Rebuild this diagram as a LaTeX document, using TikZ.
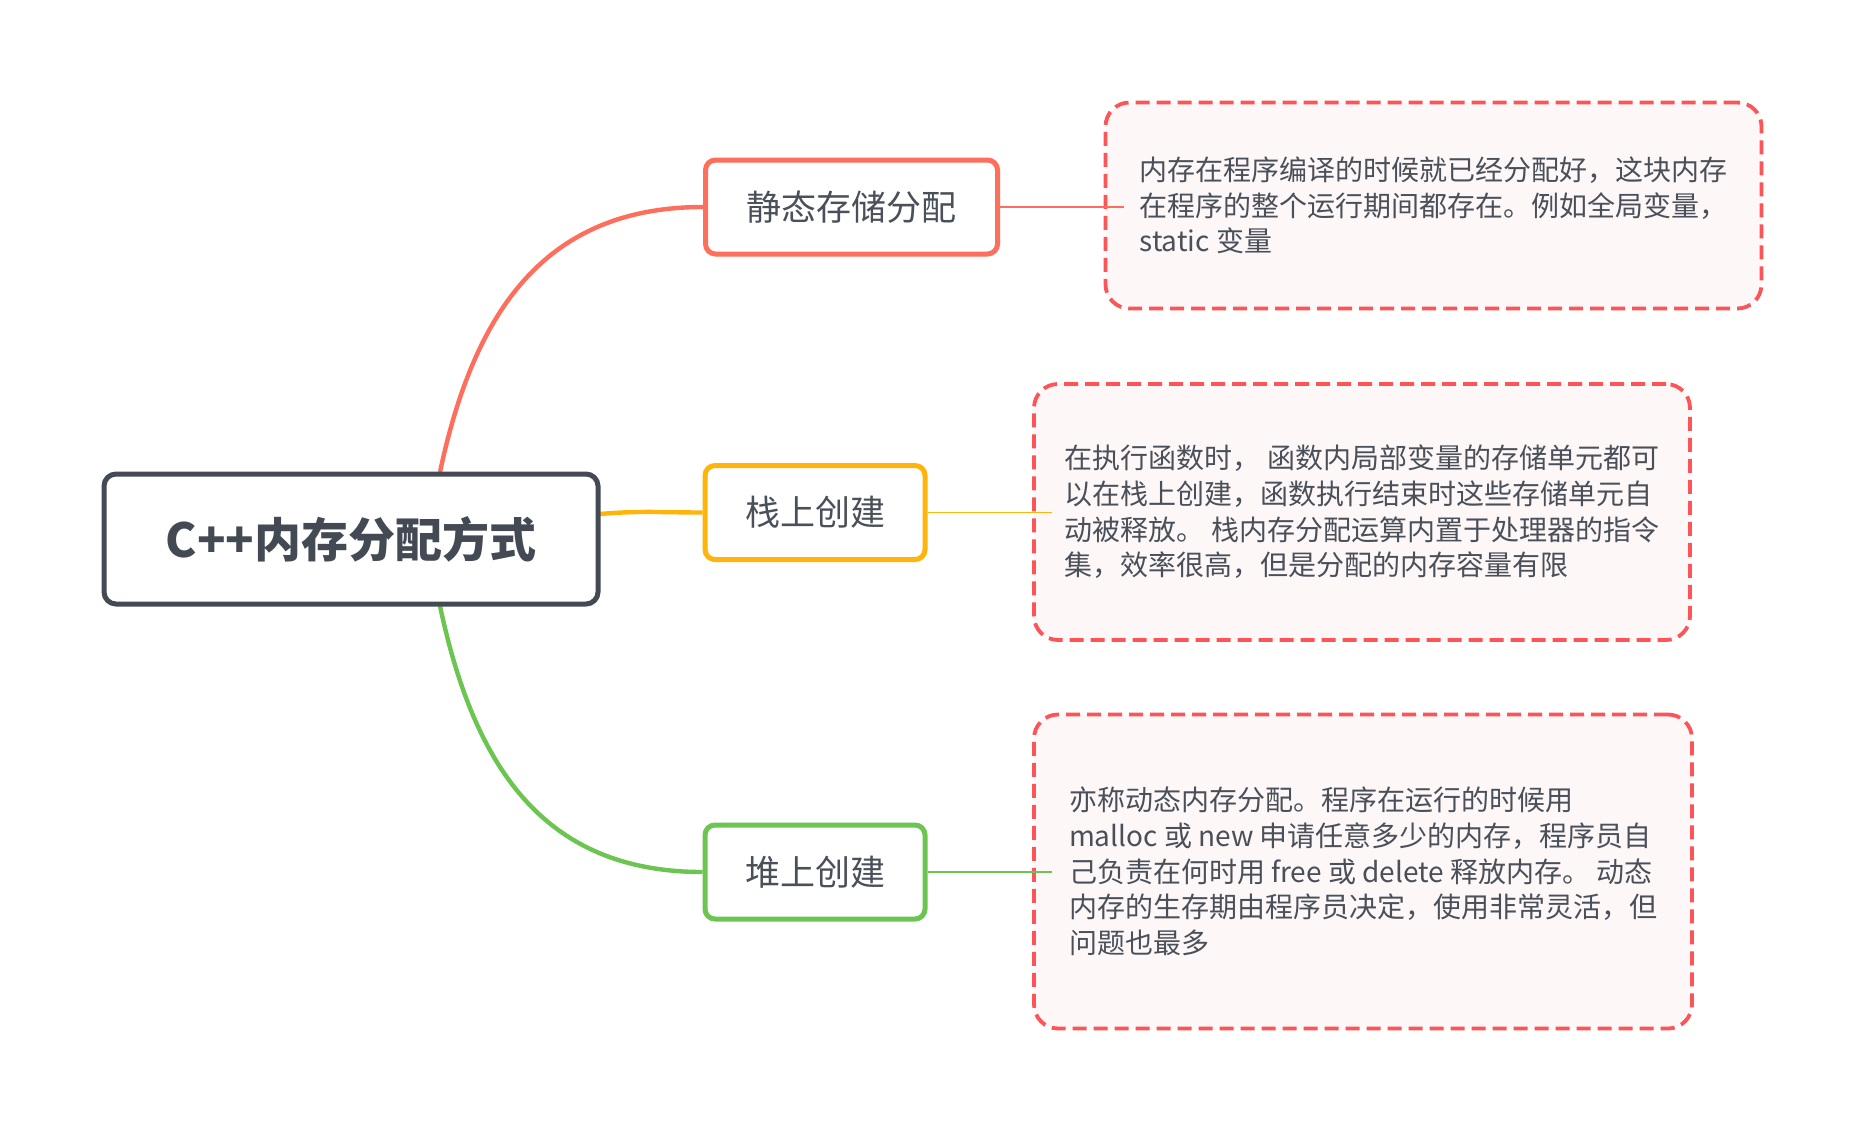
\documentclass[tikz,border=0pt]{standalone}
\usepackage{fontspec}
\setmainfont{Noto Sans CJK SC}
\definecolor{rootgray}{HTML}{434A54}
\definecolor{textgray}{HTML}{4A5059}
\definecolor{staticred}{HTML}{FD6E5C}
\definecolor{stackyellow}{HTML}{FFB40A}
\definecolor{heapgreen}{HTML}{6CC551}
\definecolor{noteborder}{HTML}{FC5457}
\definecolor{notefill}{HTML}{FDF7F7}
\begin{document}
\begin{tikzpicture}[x=0.5pt,y=0.5pt,
		rootbox/.style={draw=rootgray,line width=2.5pt,rounded corners=6pt,fill=white,minimum width=247pt,minimum height=65pt,text=rootgray,font=\fontsize{23.5pt}{28pt}\selectfont\bfseries},
		branch/.style={draw=#1,line width=2.5pt,rounded corners=5pt,fill=white,minimum height=47pt,text=textgray,font=\fontsize{17.5pt}{21pt}\selectfont},
		note/.style={draw=noteborder,fill=notefill,line width=1.9pt,dash pattern=on 7pt off 3.5pt,rounded corners=12pt,text=textgray,align=left,font=\fontsize{14pt}{17.85pt}\selectfont},
		curve/.style={draw=#1,line width=2.2pt},
		thinline/.style={draw=#1,line width=0.8pt}]
		\useasboundingbox[fill=white] (0,0) rectangle (1864,-1130);
		% notes on the right
		\node[note,minimum width=328pt,minimum height=103pt] (note1) at (1433.5,-205.5) {内存在程序编译的时候就已经分配好，这块内存\\在程序的整个运行期间都存在。例如全局变量，\\static 变量};
		\node[note,minimum width=328pt,minimum height=128pt] (note2) at (1362,-512) {在执行函数时， 函数内局部变量的存储单元都可\\以在栈上创建，函数执行结束时这些存储单元自\\动被释放。 栈内存分配运算内置于处理器的指令\\集，效率很高，但是分配的内存容量有限};
		\node[note,minimum width=329pt,minimum height=157pt] (note3) at (1363,-871.5) {亦称动态内存分配。程序在运行的时候用\\malloc 或 new 申请任意多少的内存，程序员自\\己负责在何时用 free 或 delete 释放内存。 动态\\内存的生存期由程序员决定，使用非常灵活，但\\问题也最多};
		% branches
		\node[branch=staticred,minimum width=146pt] (static) at (851.5,-207) {静态存储分配};
		\node[branch=stackyellow,minimum width=110pt] (stack) at (815,-512.5) {栈上创建};
		\node[branch=heapgreen,minimum width=110pt] (heap) at (815,-872) {堆上创建};
		\draw[curve=staticred] (static.west) to[out=180,in=78,looseness=1.1] (440,-472) coordinate (rs);
		\draw[curve=stackyellow] (stack.west) to[out=180,in=5] (600,-514) coordinate (rk);
		\draw[curve=heapgreen] (heap.west) to[out=180,in=-78,looseness=1.1] (440,-606) coordinate (rh);
		\node[rootbox] (root) at (351,-539) {C++内存分配方式};
		\draw[thinline=staticred] (static.east) -- ([xshift=10pt]static.east -| note1.west);
		\draw[thinline=stackyellow] (stack.east) -- ([xshift=10pt]stack.east -| note2.west);
		\draw[thinline=heapgreen] (heap.east) -- ([xshift=10pt]heap.east -| note3.west);
	\end{tikzpicture}
\end{document}
